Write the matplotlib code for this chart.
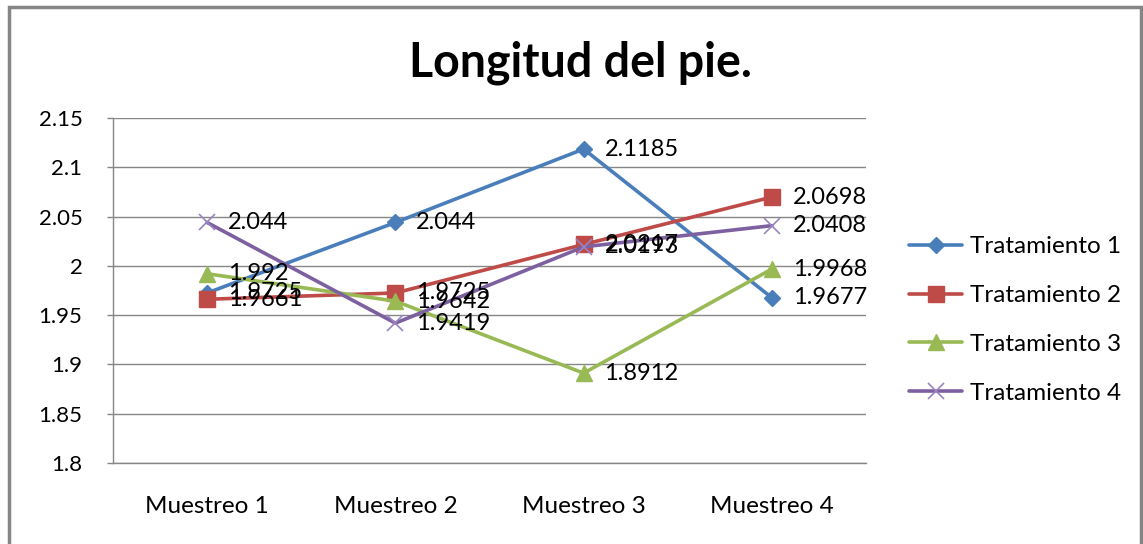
import matplotlib

matplotlib.use("Agg")
import matplotlib.pyplot as plt
from matplotlib.patches import Rectangle

categories = ["Muestreo 1", "Muestreo 2", "Muestreo 3", "Muestreo 4"]
series_names = ["Tratamiento 1", "Tratamiento 2", "Tratamiento 3", "Tratamiento 4"]
t1 = [1.9725, 2.044, 2.1185, 1.9677]
t2 = [1.9661, 1.9725, 2.0217, 2.0698]
t3 = [1.992, 1.9642, 1.8912, 1.9968]
t4 = [2.044, 1.9419, 2.0193, 2.0408]
yticks = [1.8, 1.85, 1.9, 1.95, 2.0, 2.05, 2.1, 2.15]
ytick_labels = ["1.8", "1.85", "1.9", "1.95", "2", "2.05", "2.1", "2.15"]

plt.rcParams["font.family"] = ["Lato", "DejaVu Sans"]

W, H = 1143, 544
fig = plt.figure(figsize=(W / 100, H / 100), dpi=100)
ax = fig.add_axes([113 / W, 1 - 463 / H, (866 - 113) / W, (463 - 118) / H])

styles = [
    dict(color="#4A7EBB", marker="D", ms=8, mec="#4A7EBB"),
    dict(color="#BE4B48", marker="s", ms=11, mec="#BE4B48"),
    dict(color="#98B954", marker="^", ms=12, mec="#98B954"),
    dict(color="#7D60A0", marker="x", ms=11, mew=1.2, mec="#9A84C0"),
]
x = list(range(len(categories)))
for name, vals, st in zip(series_names, [t1, t2, t3, t4], styles):
    ax.plot(x, vals, lw=2.6, label=name, solid_capstyle="round", **st)
    for xi, v in zip(x, vals):
        ax.annotate(f"{v:g}", (xi, v), xytext=(15, 0), textcoords="offset points",
                    ha="left", va="center", fontsize=17, color="black")

ax.set_xlim(-0.5, 3.5)
ax.set_ylim(1.8, 2.15)
ax.set_yticks(yticks)
ax.set_yticklabels(ytick_labels)
ax.set_xticks(x)
ax.set_xticklabels(categories)
ax.tick_params(axis="x", length=0, pad=24, labelsize=17.5)
ax.tick_params(axis="y", length=4, width=1, color="#868686", pad=18, labelsize=16)
ax.grid(axis="y", color="#868686", lw=1)
ax.set_axisbelow(True)
for s in ["top", "right"]:
    ax.spines[s].set_visible(False)
for s in ["left", "bottom"]:
    ax.spines[s].set_color("#868686")
    ax.spines[s].set_linewidth(1)

fig.text(580 / W, 1 - 63 / H, "Longitud del pie.", ha="center", va="center",
         fontsize=33.5, fontweight="bold")

ax.legend(loc="center left", bbox_to_anchor=(887 / W, 1 - 320 / H),
          bbox_transform=fig.transFigure, frameon=False, fontsize=17.5,
          handlelength=2.2, labelspacing=1.15, handletextpad=0.3)

fig.patches.append(Rectangle((9 / W, -0.05), (1141 - 9) / W, 1.05 - 7 / H,
                             transform=fig.transFigure, fill=False,
                             edgecolor="#868686", lw=2.5))

fig.savefig("out.png", dpi=100)
